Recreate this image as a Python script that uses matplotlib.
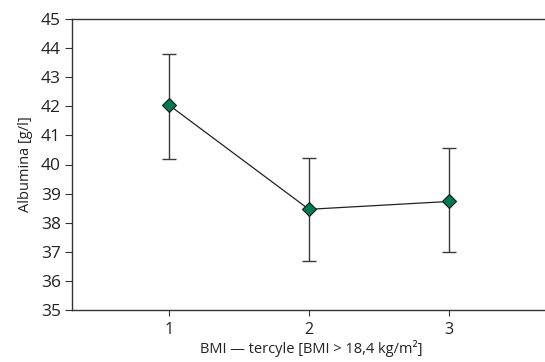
import matplotlib
matplotlib.use("Agg")
import matplotlib.pyplot as plt

categories = [1, 2, 3]
means = [42.05, 38.46, 38.73]
upper = [43.80, 40.22, 40.55]
lower = [40.18, 36.68, 36.98]
yticks = list(range(35, 46))

plt.rcParams['font.family'] = ['Open Sans', 'DejaVu Sans']

fig = plt.figure(figsize=(5.45, 3.62), dpi=100)
ax = fig.add_axes([72/545, 1-310/362, (550-72)/545, (310-19)/362])

err_lo = [m - l for m, l in zip(means, lower)]
err_hi = [u - m for m, u in zip(means, upper)]
ax.errorbar(categories, means, yerr=[err_lo, err_hi], fmt='none', ecolor='#3a3a3a',
            elinewidth=1.0, capsize=5, capthick=1.0, zorder=2)
ax.plot(categories, means, color='#222222', lw=0.9, zorder=3)
ax.plot(categories, means, linestyle='none', marker='D', markersize=7.5,
        markerfacecolor='#007a4f', markeredgecolor='#1a1a1a', markeredgewidth=0.8, zorder=4)

ax.set_xlim(0.31, 3.72)
ax.set_ylim(35, 45)
ax.set_yticks(yticks)
ax.set_xticks(categories)
for s in ax.spines.values():
    s.set_color('#333333')
    s.set_linewidth(1.0)
ax.tick_params(axis='y', direction='out', length=5, color='#333333', labelsize=12.5, labelcolor='#222222', pad=3)
ax.tick_params(axis='x', direction='out', length=4, color='#333333', labelsize=11.5, labelcolor='#222222', pad=5)
ax.set_ylabel('Albumina [g/l]', fontsize=10.5, color='#222222', labelpad=6)
ax.set_xlabel('BMI — tercyle [BMI > 18,4 kg/m²]', fontsize=10.5, color='#222222', labelpad=1)

fig.savefig('out.png', dpi=100)
